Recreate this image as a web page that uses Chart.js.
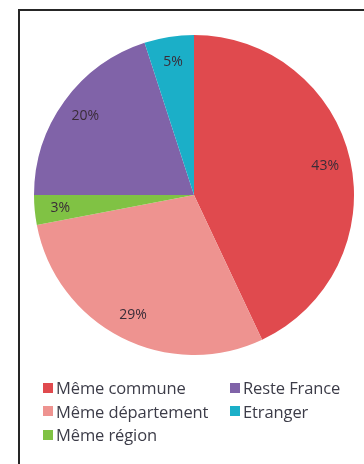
<!DOCTYPE html>
<html>
<head>
<meta charset="utf-8">
<script src="https://cdn.jsdelivr.net/npm/chart.js@4"></script>
<style>
  html, body { margin: 0; padding: 0; background: #fff; overflow: hidden; }
  body { width: 364px; height: 464px; position: relative; font-family: "Open Sans", Lato, sans-serif; }
  #frame { position: absolute; left: 18px; top: 9px; width: 400px; height: 500px; border-left: 2px solid #262626; border-top: 2px solid #262626; }
  #pie-box { position: absolute; left: 34px; top: 35px; width: 320px; height: 320px; }
  #legend { position: absolute; left: 0; top: 0; width: 364px; height: 464px; pointer-events: none; }
  .item { position: absolute; display: flex; align-items: center; font-size: 16.5px; color: #3c3c48; white-space: nowrap; letter-spacing: -0.1px; }
  .item span.box { width: 10px; height: 10px; margin-right: 3px; display: inline-block; }
</style>
</head>
<body>
<div id="frame"></div>
<div id="pie-box"><canvas id="pie"></canvas></div>
<div id="legend"></div>
<script>
const labels = ["Même commune", "Même département", "Même région", "Reste France", "Etranger"];
const shares = [43, 29, 3, 20, 5];
const colors = ["#e04a4e", "#ee9390", "#80c244", "#8063a8", "#1bafc8"];

// percent labels drawn inside each slice, near the rim
const sliceLabels = {
    id: "sliceLabels",
    afterDatasetsDraw(chart) {
        const ctx = chart.ctx;
        const meta = chart.getDatasetMeta(0);
        ctx.save();
        ctx.font = "14px 'Open Sans', sans-serif";
        ctx.fillStyle = "#3a2c38";
        ctx.textAlign = "center";
        ctx.textBaseline = "middle";
        meta.data.forEach((arc, i) => {
            const p = arc.getProps(["x", "y", "startAngle", "endAngle", "outerRadius"], true);
            const mid = (p.startAngle + p.endAngle) / 2;
            const r = p.outerRadius * 0.84;
            ctx.fillText(shares[i] + "%", p.x + Math.cos(mid) * r, p.y + Math.sin(mid) * r);
        });
        ctx.restore();
    }
};

new Chart(document.getElementById("pie"), {
    type: "pie",
    data: {
        labels: labels,
        datasets: [{
            data: shares,
            backgroundColor: colors,
            borderWidth: 0
        }]
    },
    options: {
        responsive: true,
        maintainAspectRatio: false,
        animation: false,
        layout: { padding: 0 },
        plugins: {
            legend: { display: false },
            tooltip: { enabled: false }
        }
    },
    plugins: [sliceLabels]
});

// legend laid out in two columns, filled top to bottom
const legend = document.getElementById("legend");
const colX = [43, 230];
labels.forEach((label, i) => {
    const col = i < 3 ? 0 : 1;
    const row = i < 3 ? i : i - 3;
    const item = document.createElement("div");
    item.className = "item";
    item.style.left = colX[col] + "px";
    item.style.top = (376 + row * 23.5) + "px";
    const box = document.createElement("span");
    box.className = "box";
    box.style.background = colors[i];
    item.appendChild(box);
    item.appendChild(document.createTextNode(label));
    legend.appendChild(item);
});
</script>
</body>
</html>
